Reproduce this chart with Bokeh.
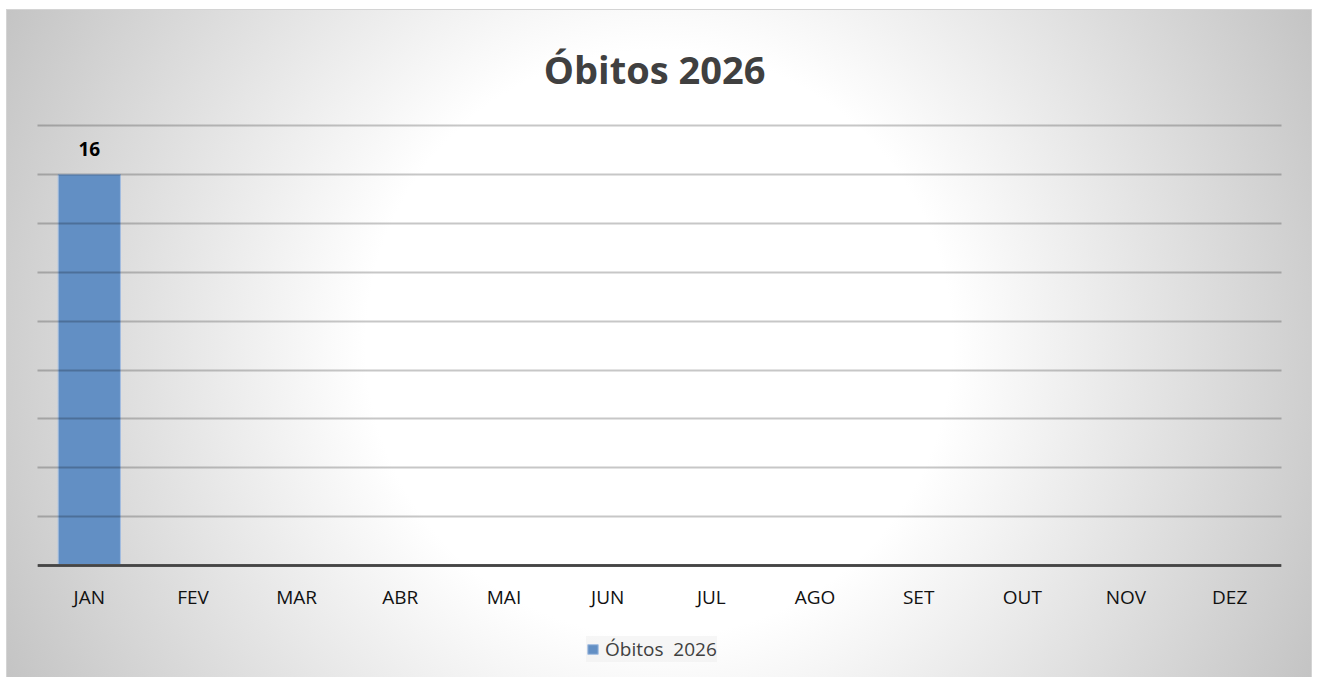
from bokeh.plotting import figure
from bokeh.models import (ColumnDataSource, Range1d, FixedTicker, LabelSet,
                          Legend, LegendItem)
from bokeh.core.properties import value
from bokeh.embed import file_html
from bokeh.resources import INLINE

# ---- data ----
months = ["JAN", "FEV", "MAR", "ABR", "MAI", "JUN", "JUL", "AGO", "SET", "OUT", "NOV", "DEZ"]
obitos = [16]  # only January has data
grid_values = [0, 2, 4, 6, 8, 10, 12, 14, 16, 18]
series_name = "Óbitos  2026"
title_text = "Óbitos  2026"

src = ColumnDataSource(data=dict(
    month=months[:len(obitos)],
    value=obitos,
    label=[str(v) for v in obitos],
))

# layout: plot area 441 px tall for 0..18, extended 112 px below the axis for labels/legend
y_top = 18.04
y_bottom = -(112 / 441) * 18

p = figure(
    x_range=months, y_range=Range1d(y_bottom, y_top),
    frame_width=1244, frame_height=553,
    output_backend="svg", toolbar_location=None,
    min_border_left=30, min_border_right=30,
    min_border_top=114, min_border_bottom=0,
    margin=(10, 0, 0, 7),
)
p.styles = {
    "background-color": "#c4c4c4",
    "background-image": "radial-gradient(circle 732px at 652px 333px, #ffffff 0px, #ffffff 293px, #c4c4c4 732px)",
    "background-repeat": "no-repeat",
    "outline": "1px solid #d4d4d4",
}
p.border_fill_color = None
p.background_fill_color = None
p.outline_line_color = None

p.title.text = title_text
p.title.align = "center"
p.title.text_font = "Open Sans"
p.title.text_font_size = "38px"
p.title.text_font_style = "bold"
p.title.text_color = "#404040"
p.title.standoff = 59

r = p.vbar(x="month", top="value", bottom=0, width=0.6, source=src,
           fill_color="#628fc4", line_color="#a3bde0", line_width=1)

labels = LabelSet(x="month", y="value", text="label", source=src,
                  text_align="center", text_baseline="alphabetic", y_offset=18,
                  text_font=value("Open Sans"), text_font_size=value("19px"),
                  text_font_style="bold", text_color="#000000")
p.add_layout(labels)

p.yaxis.visible = False
p.ygrid.ticker = FixedTicker(ticks=grid_values)
p.ygrid.grid_line_color = "#000000"
p.ygrid.grid_line_alpha = 0.22
p.ygrid.grid_line_width = 2
p.ygrid.level = "annotation"
p.xgrid.visible = False

ax = p.xaxis[0]
ax.fixed_location = 0
ax.axis_line_color = "#595959"
ax.axis_line_width = 3
ax.major_tick_line_color = None
ax.minor_tick_line_color = None
ax.major_label_text_font = "Open Sans"
ax.major_label_text_font_size = "19px"
ax.major_label_text_color = "#111111"
ax.major_label_standoff = 12

legend = Legend(items=[LegendItem(label=series_name, renderers=[r])],
                location=(549, 15), orientation="horizontal")
legend.label_text_font = "Open Sans"
legend.label_text_font_size = "19px"
legend.label_text_color = "#404040"
legend.glyph_width = 13
legend.glyph_height = 12
legend.label_standoff = 6
legend.background_fill_color = "#f0f0f0"
legend.background_fill_alpha = 0.6
legend.border_line_color = None
legend.padding = 12
legend.margin = 0
p.add_layout(legend)

open("out.html", "w").write(file_html(p, INLINE))
